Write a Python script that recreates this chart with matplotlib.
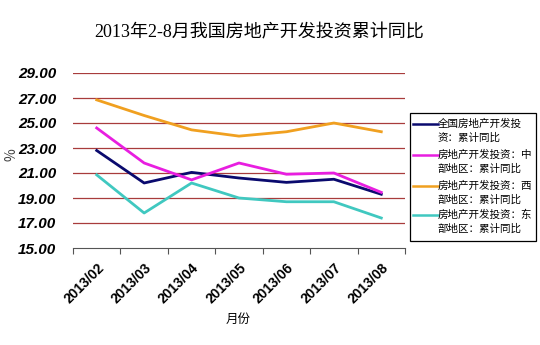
import matplotlib.pyplot as plt
from matplotlib.lines import Line2D

months = ['2013/02', '2013/03', '2013/04', '2013/05', '2013/06', '2013/07', '2013/08']
national = [22.8, 20.2, 21.05, 20.6, 20.25, 20.5, 19.3]
central = [24.6, 21.8, 20.45, 21.8, 20.9, 21.0, 19.45]
western = [26.85, 25.6, 24.45, 23.95, 24.3, 25.0, 24.3]
eastern = [20.85, 17.8, 20.2, 19.0, 18.7, 18.7, 17.4]

names = [('全国房地产开发投', '资：累计同比'),
         ('房地产开发投资：中', '部地区：累计同比'),
         ('房地产开发投资：西', '部地区：累计同比'),
         ('房地产开发投资：东', '部地区：累计同比')]
colors = ['#0a0a6e', '#e81ee0', '#f0a020', '#40c8c0']
yticks = [15, 17, 19, 21, 23, 25, 27, 29]

cjk = ['Noto Sans CJK SC', 'DejaVu Sans']
plt.rcParams['font.family'] = cjk

W, H = 540, 345
fig = plt.figure(figsize=(W / 100, H / 100), dpi=100)
ax = fig.add_axes([73 / W, 1 - 248 / H, 332 / W, 175 / H])


def fx(px):
    return px / W


def fy(py):
    return 1 - py / H


x = list(range(len(months)))
for vals, c in zip([national, central, western, eastern], colors):
    ax.plot(x, vals, color=c, linewidth=2.0)

ax.set_xlim(-0.5, len(months) - 0.5)
ax.set_ylim(15, 29)
ax.set_yticks(yticks)
ax.set_yticklabels(['%.2f' % v for v in yticks], family='Liberation Sans',
                   fontweight='bold', style='italic', fontsize=11)
for v in yticks[1:]:
    ax.axhline(v, color='#a83c3c', linewidth=0.9, zorder=0)
ax.tick_params(axis='y', length=0, pad=12)

ax.set_xticks([i - 0.5 for i in range(len(months) + 1)], minor=False)
ax.set_xticklabels([''] * (len(months) + 1))
ax.set_xticks(x, minor=True)
ax.set_xticklabels(months, minor=True, rotation=45, ha='right', va='top',
                   family='Liberation Sans', fontweight='bold', fontsize=10,
                   rotation_mode='anchor')
ax.tick_params(axis='x', which='major', length=4, color='#555555', direction='out')
ax.tick_params(axis='x', which='minor', length=0, pad=9)

for s in ['top', 'right', 'left']:
    ax.spines[s].set_visible(False)
ax.spines['bottom'].set_color('#555555')

fig.text(fx(12), fy(155), '%', rotation=90, ha='center', va='center',
         fontsize=10, color='#444444')
fig.text(fx(238), fy(319), '月份', ha='center', va='center', fontsize=9)

fig.text(fx(259), fy(33), '2013年2-8月我国房地产开发投资累计同比',
         ha='center', va='center', fontsize=13,
         family=['Liberation Serif', 'Noto Sans CJK SC'])

# legend drawn by hand so the handle sits on the first text row
box = plt.Rectangle((fx(410), fy(241)), fx(536) - fx(410), fy(113) - fy(241),
                    transform=fig.transFigure, fill=False, edgecolor='black',
                    linewidth=0.9)
fig.add_artist(box)
row1 = [124, 155, 186, 215]
for (l1, l2), c, yy in zip(names, colors, row1):
    fig.add_artist(Line2D([fx(413), fx(438)], [fy(yy), fy(yy)], color=c,
                          linewidth=1.8, transform=fig.transFigure))
    fig.text(fx(438), fy(yy), l1, ha='left', va='center', fontsize=7.6)
    fig.text(fx(438), fy(yy + 13.5), l2, ha='left', va='center', fontsize=7.6)

fig.savefig('out.png', dpi=100)
